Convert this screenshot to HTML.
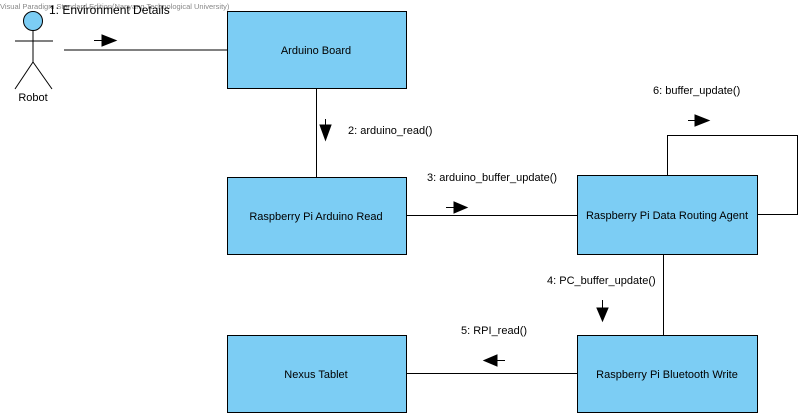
<!DOCTYPE html>
<html><head><meta charset="utf-8"><style>
html,body{margin:0;padding:0;background:#fff;}
svg{display:block;}
text{font-family:"Liberation Sans",Arial,sans-serif;font-size:11px;fill:#000;}
</style></head><body>
<svg width="801" height="415" viewBox="0 0 801 415" xmlns="http://www.w3.org/2000/svg">
<g stroke="#000" stroke-width="1" fill="none">
<line x1="64" y1="50" x2="227" y2="50"/>
<line x1="316.5" y1="88" x2="316.5" y2="177"/>
<line x1="406" y1="215.5" x2="577" y2="215.5"/>
<polyline points="667.5,175 667.5,135.5 797.5,135.5 797.5,214.5 757,214.5"/>
<line x1="663.5" y1="254" x2="663.5" y2="335"/>
<line x1="406" y1="373.5" x2="577" y2="373.5"/>
</g>
<g fill="#7ccdf4" stroke="#000" stroke-width="1">
<rect x="227.5" y="11.5" width="179" height="77"/>
<rect x="227.5" y="177.5" width="179" height="77"/>
<rect x="577.5" y="175.5" width="180" height="79"/>
<rect x="577.5" y="335.5" width="180" height="77"/>
<rect x="227.5" y="335.5" width="179" height="77"/>
</g>
<text x="316" y="54" text-anchor="middle">Arduino Board</text>
<text x="316" y="220" text-anchor="middle">Raspberry Pi Arduino Read</text>
<text x="667" y="219" text-anchor="middle">Raspberry Pi Data Routing Agent</text>
<text x="667" y="378" text-anchor="middle">Raspberry Pi Bluetooth Write</text>
<text x="316" y="378" text-anchor="middle">Nexus Tablet</text>
<!-- actor -->
<text x="0" y="9" style="font-size:7.5px;fill:#888">Visual Paradigm Standard Edition(Nanyang Technological University)</text>
<circle cx="33" cy="21" r="9.5" fill="#7ccdf4" stroke="#000"/>
<g stroke="#000" fill="none">
<line x1="33" y1="30" x2="33" y2="62"/>
<line x1="15" y1="41" x2="53" y2="41"/>
<line x1="33" y1="62" x2="15" y2="89"/>
<line x1="33" y1="62" x2="52" y2="89"/>
</g>
<text x="33" y="101" text-anchor="middle">Robot</text>
<text x="49" y="14" style="font-size:12px">1: Environment Details</text>
<!-- arrows -->
<g stroke="#000" fill="#000">
<line x1="94" y1="40.5" x2="104" y2="40.5"/><polygon points="102,35 116,40.5 102,46"/>
<line x1="325.5" y1="119" x2="325.5" y2="127"/><polygon points="320,125 325.5,140 331,125"/>
<line x1="446" y1="207.5" x2="456" y2="207.5"/><polygon points="454,202 467,207.5 454,213"/>
<line x1="688" y1="120.5" x2="696" y2="120.5"/><polygon points="695,115 709,120.5 695,126"/>
<line x1="602.5" y1="300" x2="602.5" y2="310"/><polygon points="597,308 602.5,321 608,308"/>
<line x1="494" y1="360.5" x2="505" y2="360.5"/><polygon points="497,355 484,360.5 497,366"/>
</g>
<text x="348" y="134">2: arduino_read()</text>
<text x="427" y="181">3: arduino_buffer_update()</text>
<text x="653" y="94">6: buffer_update()</text>
<text x="547" y="284">4: PC_buffer_update()</text>
<text x="461" y="334">5: RPI_read()</text>
</svg>
</body></html>
